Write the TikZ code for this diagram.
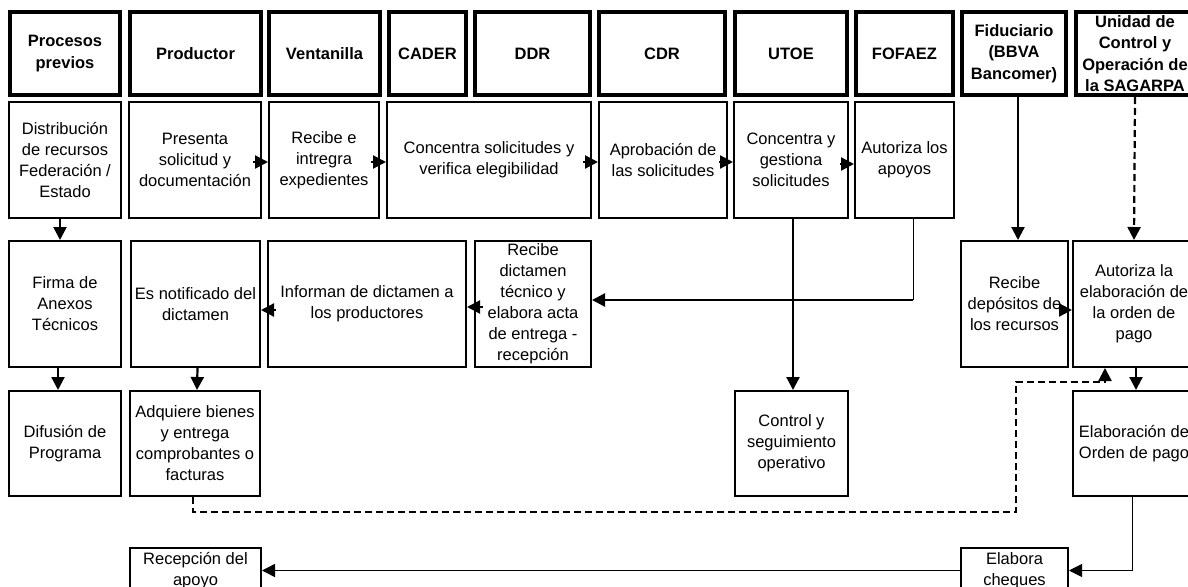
\documentclass[tikz,border=0pt]{standalone}
\usepackage{fontspec}
\setmainfont{Liberation Sans}
\usetikzlibrary{arrows.meta}
\tikzset{
  box/.style={draw, line width=2pt, inner sep=1pt, align=center, font=\fontsize{16.5}{21}\selectfont},
  hdr/.style={draw, line width=4pt, inner sep=1pt, align=center, font=\bfseries\fontsize{16.5}{21.5}\selectfont},
  tip/.style={-{Triangle[length=13pt,width=13pt]}},
  arr/.style={line width=2.2pt, tip},
  tarr/.style={line width=1pt, tip},
  thinl/.style={line width=1pt},
  dsh/.style={line width=2.2pt, dash pattern=on 7pt off 4pt},
}
\newcommand{\hdrbox}[6]{\node[hdr, minimum width={(#3-#2-4)*1pt}, minimum height={(#5-#4-4)*1pt}] (#1) at ({(#2+#3)/2},{(#4+#5)/2}) {#6};}
\newcommand{\stepbx}[6]{\node[box, minimum width={(#3-#2-2)*1pt}, minimum height={(#5-#4-2)*1pt}] (#1) at ({(#2+#3)/2},{(#4+#5)/2}) {#6};}
\begin{document}
\begin{tikzpicture}[x=1pt,y=-1pt]
\clip (0,0) rectangle (1188,586);
\fill[white] (0,0) rectangle (1188,586);
% headers
\hdrbox{h1}{8}{122}{10}{97}{Procesos\\previos}
\hdrbox{h2}{128}{263}{10}{97}{Productor}
\hdrbox{h3}{267}{382}{10}{97}{Ventanilla}
\hdrbox{h4}{387}{468}{10}{97}{CADER}
\hdrbox{h5}{473}{592}{10}{97}{DDR}
\hdrbox{h6}{597}{727}{10}{97}{CDR}
\hdrbox{h7}{733}{849}{10}{97}{UTOE}
\hdrbox{h8}{854}{955}{10}{97}{FOFAEZ}
\hdrbox{h9}{960}{1068}{10}{97}{Fiduciario\\(BBVA\\Bancomer)}
\hdrbox{h10}{1074}{1196}{10}{97}{Unidad de\\Control y\\Operación de\\la SAGARPA}
% row 2
\stepbx{r2a}{8}{122}{101}{219}{Distribución\\de recursos\\Federación /\\Estado}
\stepbx{r2b}{128}{262}{101}{219}{Presenta\\solicitud y\\documentación}
\stepbx{r2c}{268}{380}{101}{219}{Recibe e\\intregra\\expedientes}
\stepbx{r2d}{386}{592}{101}{219}{Concentra solicitudes y\\verifica elegibilidad}
\stepbx{r2e}{598}{728}{101}{219}{Aprobación de\\las solicitudes}
\stepbx{r2f}{733}{849}{101}{219}{Concentra y\\gestiona\\solicitudes}
\stepbx{r2g}{854}{955}{101}{219}{Autoriza los\\apoyos}
% row 3
\stepbx{r3a}{8}{122}{240}{368}{Firma de\\Anexos\\Técnicos}
\stepbx{r3b}{130}{261}{240}{368}{Es notificado del\\dictamen}
\stepbx{r3c}{267}{467}{240}{368}{Informan de dictamen a\\los productores}
\stepbx{r3d}{474}{592}{240}{368}{Recibe\\dictamen\\técnico y\\elabora acta\\de entrega -\\recepción}
\stepbx{r3e}{960}{1069}{240}{368}{Recibe\\depósitos de\\los recursos}
\stepbx{r3f}{1072}{1196}{240}{368}{Autoriza la\\elaboración de\\la orden de\\pago}
% row 4
\stepbx{r4a}{8}{122}{390}{497}{Difusión de\\Programa}
\stepbx{r4b}{129}{261}{390}{497}{Adquiere bienes\\y entrega\\comprobantes o\\facturas}
\stepbx{r4c}{734}{849}{390}{497}{Control y\\seguimiento\\operativo}
\stepbx{r4d}{1072}{1196}{390}{497}{Elaboración de\\Orden de pago}
% row 5
\stepbx{r5a}{129}{262}{547}{594}{Recepción del\\apoyo}
\stepbx{r5b}{960}{1069}{547}{594}{Elabora\\cheques}
% row 2 arrows
\draw[arr] ([xshift=-9pt,yshift=-2pt]r2b.east) -- ([yshift=-2pt]r2c.west);
\draw[arr] ([xshift=-9pt,yshift=-2pt]r2c.east) -- ([yshift=-2pt]r2d.west);
\draw[arr] ([xshift=-9pt,yshift=-2pt]r2d.east) -- ([yshift=-2pt]r2e.west);
\draw[arr] ([xshift=-9pt,yshift=-2pt]r2e.east) -- ([yshift=-2pt]r2f.west);
\draw[arr] ([xshift=-9pt,yshift=-4pt]r2f.east) -- ([yshift=-4pt]r2g.west);
% verticals left
\draw[arr] ([xshift=-5pt]r2a.south) -- ([xshift=-5pt]r3a.north);
\draw[arr] ([xshift=-7pt]r3a.south) -- ([xshift=-7pt]r4a.north);
\draw[arr] ([xshift=2pt]r3b.south) -- ([xshift=2pt]r4b.north);
% row 3 arrows
\draw[arr] ([xshift=9pt,yshift=-3pt]r3d.west) -- ([yshift=-3pt]r3c.east);
\draw[arr] ([xshift=9pt,yshift=-6pt]r3c.west) -- ([yshift=-6pt]r3b.east);
\draw[arr] ([xshift=-9pt,yshift=-6pt]r3e.east) -- ([yshift=-6pt]r3f.west);
% UTOE down
\coordinate (kx) at (793,0);
\draw[arr] (r2f.south -| kx) -- (r4c.north -| kx);
% FOFAEZ to DDR
\coordinate (k1) at (913,300);
\draw[thinl] (r2g.south -| k1) -- (k1);
\draw[arr] (k1) -- (r3d.east |- k1);
% fiduciario / unidad
\coordinate (fx) at (1018,0);
\draw[arr] (h9.south -| fx) -- (r3e.north -| fx);
\draw[dsh, tip] (h10.south) -- (r3f.north);
\draw[arr] ([xshift=2pt]r3f.south) -- ([xshift=2pt]r4d.north);
% dashed feedback
\coordinate (d0) at (193,512);
\coordinate (dA) at (1016,512);
\coordinate (dB) at (1105,382);
\draw[dsh, tip] (r4b.south -| d0) -- (d0) -- (dA) |- (dB) -- (r3f.south -| dB);
% bottom
\coordinate (c1) at (1132,571);
\draw[tarr] (r4d.south -| c1) |- (r5b.east);
\draw[arr, line width=1.5pt] (r5b.west) -- (r5a.east);
\end{tikzpicture}
\end{document}
